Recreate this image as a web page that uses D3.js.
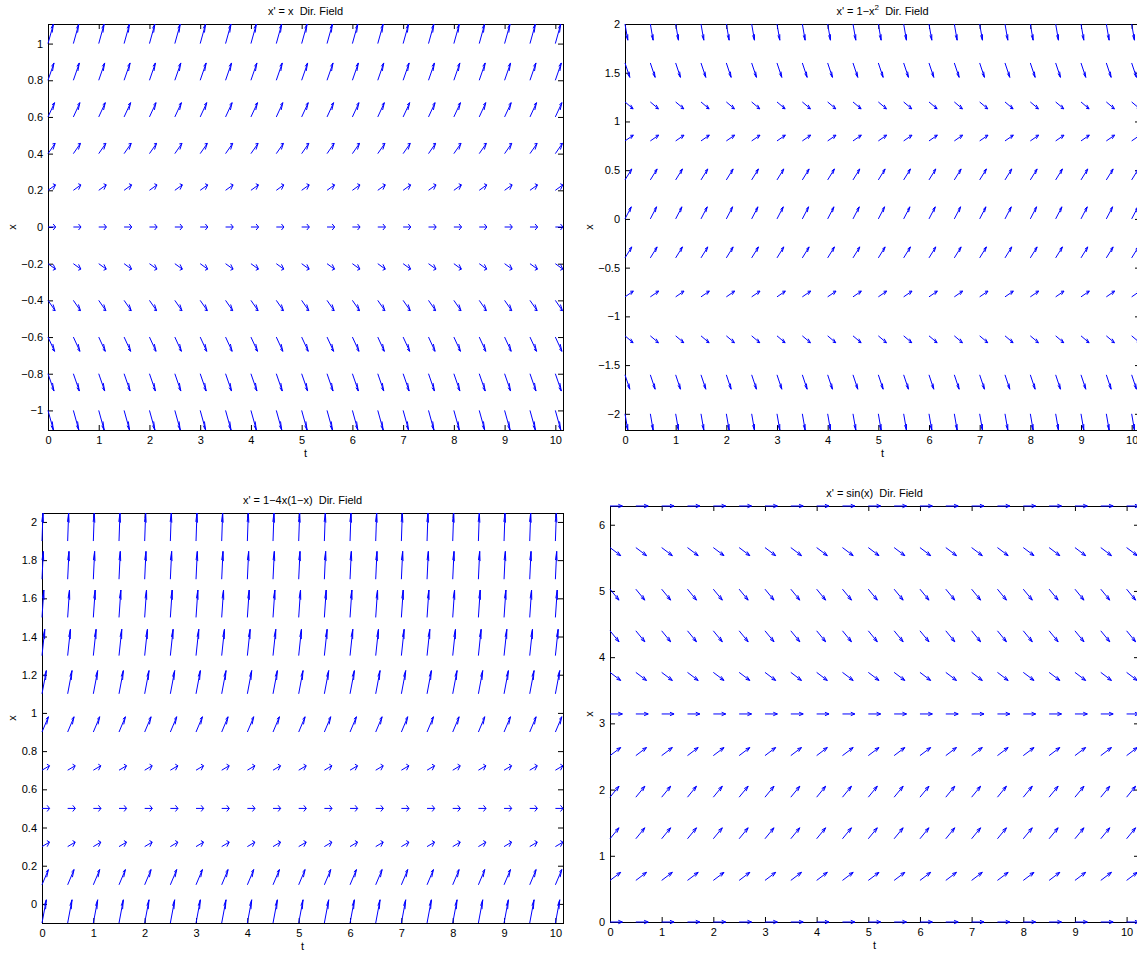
<!DOCTYPE html>
<html>
<head>
<meta charset="utf-8">
<script src="https://cdn.jsdelivr.net/npm/d3@7"></script>
<style>
body { margin: 0; background: #fff; }
svg text { font-family: "Liberation Sans", Arial, sans-serif; font-size: 11px; fill: #000; }
.title { white-space: pre; }
</style>
</head>
<body>
<svg id="chart" width="1137" height="953"></svg>
<script>
// sample times (columns of the direction field)
const tGrid = [0, 0.5, 1, 1.5, 2, 2.5, 3, 3.5, 4, 4.5, 5, 5.5, 6, 6.5, 7, 7.5, 8, 8.5, 9, 9.5, 10];
const tTicks = [0, 1, 2, 3, 4, 5, 6, 7, 8, 9, 10];

// x' = x
const rowsLinear = [-1, -0.8, -0.6, -0.4, -0.2, 0, 0.2, 0.4, 0.6, 0.8, 1];
const slopesLinear = [-1, -0.8, -0.6, -0.4, -0.2, 0, 0.2, 0.4, 0.6, 0.8, 1];
const ticksLinear = [-1, -0.8, -0.6, -0.4, -0.2, 0, 0.2, 0.4, 0.6, 0.8, 1];

// x' = 1 - x^2
const rowsQuad = [-2, -1.6, -1.2, -0.8, -0.4, 0, 0.4, 0.8, 1.2, 1.6, 2];
const slopesQuad = [-3, -1.56, -0.44, 0.36, 0.84, 1, 0.84, 0.36, -0.44, -1.56, -3];
const ticksQuad = [-2, -1.5, -1, -0.5, 0, 0.5, 1, 1.5, 2];

// x' = 1 - 4x(1-x)
const rowsLogistic = [-0.1, 0.1, 0.3, 0.5, 0.7, 0.9, 1.1, 1.3, 1.5, 1.7, 1.9];
const slopesLogistic = [1.44, 0.64, 0.16, 0, 0.16, 0.64, 1.44, 2.56, 4, 5.76, 7.84];
const ticksLogistic = [0, 0.2, 0.4, 0.6, 0.8, 1, 1.2, 1.4, 1.6, 1.8, 2];

// x' = sin(x)
const rowsSine = [0, 0.628, 1.257, 1.885, 2.513, 3.142, 3.770, 4.398, 5.027, 5.655, 6.283];
const slopesSine = [0, 0.588, 0.951, 0.951, 0.588, 0, -0.588, -0.951, -0.951, -0.588, 0];
const ticksSine = [0, 1, 2, 3, 4, 5, 6];

const panels = [
    { rows: rowsLinear, slopes: slopesLinear, yTicks: ticksLinear,
      title: [["x' = x  Dir. Field"]],
      left: 48, top: 24, width: 515, height: 406, scale: 0.151, labelX: 12 },
    { rows: rowsQuad, slopes: slopesQuad, yTicks: ticksQuad,
      title: [["x' = 1\u2212x"], ["2", true], ["  Dir. Field"]],
      left: 625, top: 24, width: 515, height: 406, scale: 0.175, labelX: 589 },
    { rows: rowsLogistic, slopes: slopesLogistic, yTicks: ticksLogistic,
      title: [["x' = 1\u22124x(1\u2212x)  Dir. Field"]],
      left: 42, top: 513, width: 521, height: 410, scale: 0.148, labelX: 12 },
    { rows: rowsSine, slopes: slopesSine, yTicks: ticksSine,
      title: [["x' = sin(x)  Dir. Field"]],
      left: 610, top: 506, width: 529, height: 416, scale: 0.24, labelX: 589 }
];

const svg = d3.select("#chart");
const minus = d => String(d).replace("-", "\u2212");

function drawField(p) {
    const g = svg.append("g");

    // unit direction vectors (1, f) normalized, then shrunk like quiver
    const arrows = [];
    p.rows.forEach((x, i) => {
        const m = p.slopes[i];
        const n = Math.sqrt(1 + m * m);
        tGrid.forEach(t => arrows.push({ t: t, x: x, u: p.scale / n, v: p.scale * m / n }));
    });

    // tight limits around bases and tips
    const tDom = [d3.min(arrows, d => Math.min(d.t, d.t + d.u)), d3.max(arrows, d => Math.max(d.t, d.t + d.u))];
    const xDom = [d3.min(arrows, d => Math.min(d.x, d.x + d.v)), d3.max(arrows, d => Math.max(d.x, d.x + d.v))];

    const sx = d3.scaleLinear().domain(tDom).range([p.left, p.left + p.width]);
    const sy = d3.scaleLinear().domain(xDom).range([p.top + p.height, p.top]);

    const bottom = p.top + p.height, right = p.left + p.width;

    // axes with inward ticks on all four sides
    g.append("g").attr("transform", `translate(0,${bottom})`)
        .call(d3.axisBottom(sx).tickValues(tTicks).tickSize(-5).tickSizeOuter(0).tickPadding(6).tickFormat(minus));
    g.append("g").attr("transform", `translate(0,${p.top})`)
        .call(d3.axisTop(sx).tickValues(tTicks).tickSize(-5).tickSizeOuter(0).tickFormat(""));
    g.append("g").attr("transform", `translate(${p.left},0)`)
        .call(d3.axisLeft(sy).tickValues(p.yTicks).tickSize(-5).tickSizeOuter(0).tickPadding(5).tickFormat(minus));
    g.append("g").attr("transform", `translate(${right},0)`)
        .call(d3.axisRight(sy).tickValues(p.yTicks).tickSize(-5).tickSizeOuter(0).tickFormat(""));

    g.selectAll(".domain").remove();
    g.selectAll(".tick text").attr("font-size", null).attr("font-family", null).attr("fill", "#000");
    g.selectAll(".tick line").attr("stroke", "#000");

    g.append("rect")
        .attr("x", p.left + 0.5).attr("y", p.top + 0.5)
        .attr("width", p.width).attr("height", p.height)
        .attr("fill", "none").attr("stroke", "#000").attr("stroke-width", 1);

    // arrows, head built in data units like MATLAB's quiver (alpha = beta = 0.33)
    const a = 0.33, b = 0.33;
    g.append("g").selectAll("path")
        .data(arrows)
        .join("path")
        .attr("d", d => {
            const tx = d.t + d.u, ty = d.x + d.v;
            const h1 = [tx - a * (d.u + b * d.v), ty - a * (d.v - b * d.u)];
            const h2 = [tx - a * (d.u - b * d.v), ty - a * (d.v + b * d.u)];
            return `M${sx(d.t)},${sy(d.x)}L${sx(tx)},${sy(ty)}` +
                `M${sx(h1[0])},${sy(h1[1])}L${sx(tx)},${sy(ty)}L${sx(h2[0])},${sy(h2[1])}`;
        })
        .attr("fill", "none")
        .attr("stroke", "#0000ff")
        .attr("stroke-width", 1);

    // title
    const title = g.append("text")
        .attr("class", "title")
        .attr("x", (p.left + right) / 2)
        .attr("y", p.top - 9)
        .attr("text-anchor", "middle");
    p.title.forEach(([txt, sup]) => {
        const span = title.append("tspan").text(txt);
        if (sup) span.attr("dy", -5).attr("font-size", 8);
        else if (title.selectAll("tspan").size() > 1) span.attr("dy", 5);
    });

    // axis labels
    g.append("text")
        .attr("x", (p.left + right) / 2)
        .attr("y", bottom + 27)
        .attr("text-anchor", "middle")
        .text("t");
    g.append("text")
        .attr("transform", `translate(${p.labelX},${(p.top + bottom) / 2}) rotate(-90)`)
        .attr("text-anchor", "middle")
        .attr("dy", "0.35em")
        .text("x");
}

panels.forEach(drawField);
</script>
</body>
</html>
